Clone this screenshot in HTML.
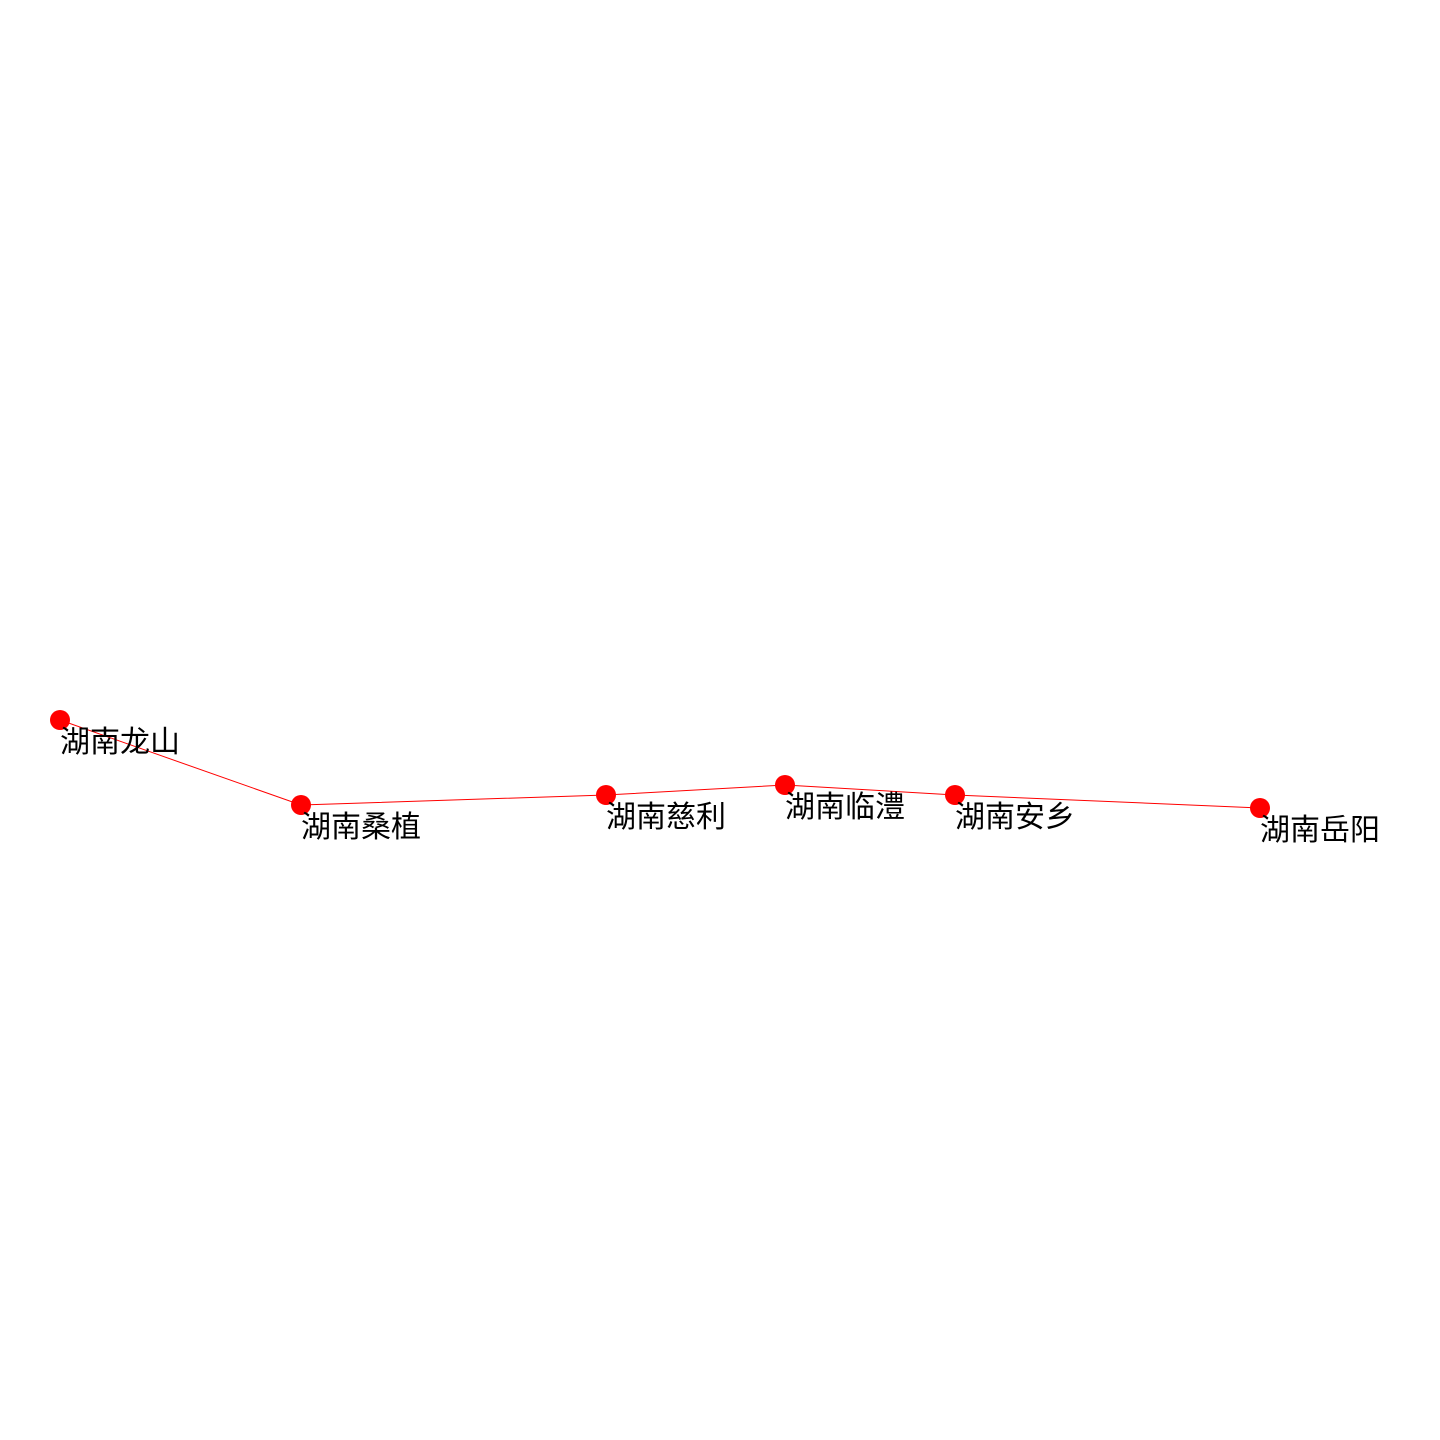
<!DOCTYPE html>
<html><head><meta charset="utf-8"><style>html,body{margin:0;background:#fff}</style></head>
<body>
<svg width="1440" height="1440" xmlns="http://www.w3.org/2000/svg" style="display:block">
<polyline points="60,720 301,805 606,795 785,785 955,795 1260,808" fill="none" stroke="#f00" stroke-width="1"/>
<g fill="#f00">
<circle cx="60" cy="720" r="10"/><circle cx="301" cy="805" r="10"/><circle cx="606" cy="795" r="10"/>
<circle cx="785" cy="785" r="10"/><circle cx="955" cy="795" r="10"/><circle cx="1260" cy="808" r="10"/>
</g>
<g font-family="'Liberation Sans','Noto Sans CJK SC',sans-serif" font-size="30" fill="#000">
<text x="60" y="752">湖南龙山</text>
<text x="301" y="837">湖南桑植</text>
<text x="606" y="827">湖南慈利</text>
<text x="785" y="817">湖南临澧</text>
<text x="955" y="827">湖南安乡</text>
<text x="1260" y="840">湖南岳阳</text>
</g>
</svg>
</body></html>
